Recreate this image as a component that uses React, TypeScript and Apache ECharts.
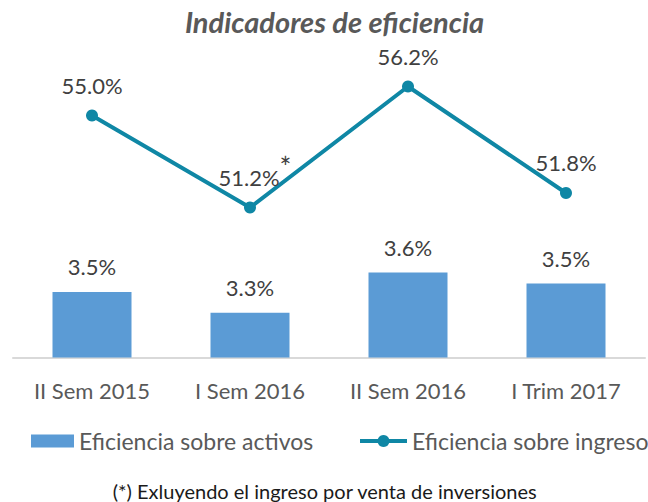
import React, { useEffect, useRef } from "react";
import * as echarts from "echarts";

const categories = ["II Sem 2015", "I Sem 2016", "II Sem 2016", "I Trim 2017"];
const activos = [3.47, 3.32, 3.61, 3.53];
const ingreso = [55.0, 51.2, 56.2, 51.8];
const starredIndex = 1;
const seriesNames = ["Eficiencia sobre activos", "Eficiencia sobre ingreso"];
const titleText = "Indicadores de eficiencia";
const footnoteText = "(*) Exluyendo el ingreso por venta de inversiones";

const FONT = "Lato";
const BAR_COLOR = "#5B9BD5";
const LINE_COLOR = "#0F87A5";
const LABEL_COLOR = "#404040";
const TEXT_COLOR = "#595959";

export default function App() {
  const ref = useRef<HTMLDivElement>(null);
  useEffect(() => {
    document.body.style.margin = "0";
    if (!ref.current) return;
    const chart = echarts.init(ref.current, undefined, { renderer: "svg" });
    chart.setOption({
      animation: false,
      backgroundColor: "#ffffff",
      textStyle: { fontFamily: FONT },
      grid: { left: 13, right: 3, top: 57.5, bottom: 144.5, containLabel: false },
      xAxis: {
        type: "category",
        data: categories,
        axisTick: { show: false },
        axisLine: { show: true, lineStyle: { color: "#D9D9D9", width: 2 } },
        axisLabel: { color: TEXT_COLOR, fontSize: 22, fontFamily: FONT, margin: 22 },
      },
      yAxis: [
        { type: "value", min: 3, max: 5.15, show: false, splitLine: { show: false } },
        { type: "value", min: 45, max: 57.4, show: false, splitLine: { show: false } },
      ],
      legend: [
        {
          data: [seriesNames[0]],
          left: 31,
          top: 429,
          padding: 0,
          itemWidth: 43,
          itemHeight: 13,
          itemGap: 0,
          icon: "rect",
          textStyle: { color: TEXT_COLOR, fontSize: 23, fontFamily: FONT, lineHeight: 24 },
        },
        {
          data: [seriesNames[1]],
          left: 358,
          top: 429,
          padding: 0,
          itemWidth: 47,
          itemHeight: 15,
          itemGap: 0,
          lineStyle: { width: 4, color: LINE_COLOR },
          itemStyle: { color: LINE_COLOR },
          textStyle: { color: TEXT_COLOR, fontSize: 23, fontFamily: FONT, lineHeight: 24 },
        },
      ],
      series: [
        {
          name: seriesNames[0],
          type: "bar",
          yAxisIndex: 0,
          data: activos,
          barWidth: "50%",
          itemStyle: { color: BAR_COLOR },
          label: {
            show: true,
            position: "top",
            distance: 14,
            color: LABEL_COLOR,
            fontSize: 22,
            fontFamily: FONT,
            formatter: (p: any) => `${Number(p.value).toFixed(1)}%`,
          },
        },
        {
          name: seriesNames[1],
          type: "line",
          yAxisIndex: 1,
          data: ingreso.map((v, i) =>
            i === starredIndex
              ? { value: v, label: { offset: [5, 0] } }
              : { value: v }
          ),
          symbol: "circle",
          symbolSize: 12,
          lineStyle: { color: LINE_COLOR, width: 4 },
          itemStyle: { color: LINE_COLOR },
          label: {
            show: true,
            position: "top",
            distance: 13,
            formatter: (p: any) =>
              p.dataIndex === starredIndex
                ? `{v|${Number(p.value).toFixed(1)}%}{s|*}`
                : `{v|${Number(p.value).toFixed(1)}%}`,
            rich: {
              v: { color: LABEL_COLOR, fontSize: 22, fontFamily: FONT, verticalAlign: "bottom" },
              s: { color: LABEL_COLOR, fontSize: 28, fontFamily: FONT, padding: [0, 0, 8, 0] },
            },
          },
        },
      ],
      graphic: [
        {
          type: "text",
          style: {
            text: titleText,
            x: 334.5,
            y: 21.2,
            align: "center",
            verticalAlign: "middle",
            fill: TEXT_COLOR,
            font: `italic bold 29px ${FONT}`,
          },
        },
        {
          type: "text",
          style: {
            text: footnoteText,
            x: 324.7,
            y: 491.3,
            align: "center",
            verticalAlign: "middle",
            fill: "#1a1a1a",
            font: `20px ${FONT}`,
          },
        },
      ],
    });
    return () => chart.dispose();
  }, []);
  return <div ref={ref} style={{ width: 648, height: 502 }} />;
}
